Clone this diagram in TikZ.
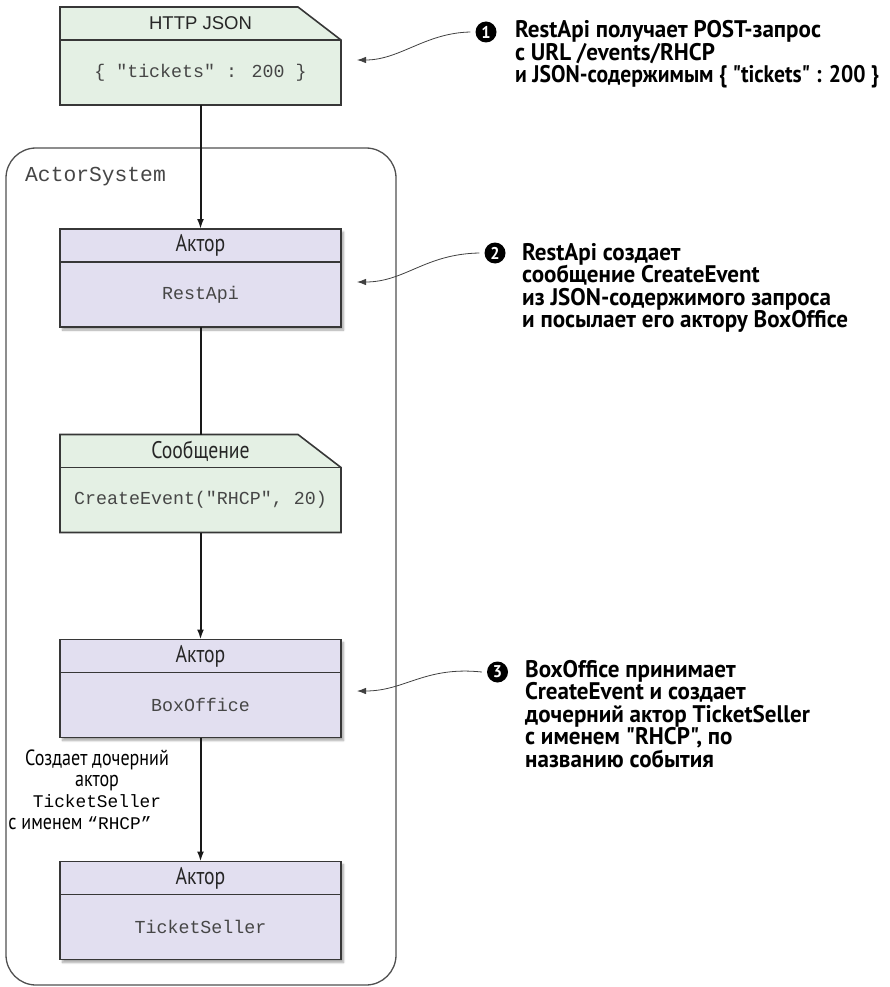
\documentclass[tikz,border=0pt]{standalone}
\usepackage{fontspec}
\setmainfont{PT Sans}
\newfontfamily\narrowfont{PT Sans}[FakeStretch=0.82]
\newfontfamily\notefont{PT Sans}[FakeStretch=0.96]
\newfontfamily\notetight{PT Sans}[FakeStretch=0.9]
\newfontfamily\headfont{Liberation Sans}
\newfontfamily\codefont{Liberation Mono}
\usetikzlibrary{arrows.meta,shadows.blur}

\definecolor{msgfill}{RGB}{228,240,228}
\definecolor{actfill}{RGB}{226,223,240}
\definecolor{boxline}{RGB}{55,55,55}
\definecolor{codegray}{RGB}{70,70,70}
\definecolor{framegray}{RGB}{80,80,80}

\tikzset{
  frame/.style={inner sep=0pt, outer sep=0pt, minimum width=281pt, minimum height=98pt},
  actorbox/.style={frame, draw=boxline, line width=1.6pt, fill=actfill,
    blur shadow={shadow xshift=2.5pt, shadow yshift=-3pt, shadow blur steps=6, shadow opacity=35}},
  noteshape/.style={draw=boxline, line width=1.6pt, fill=msgfill},
  divider/.style={draw=boxline, line width=1.6pt},
  hdr/.style={font=\narrowfont\fontsize{24}{26}\selectfont, text=black!85, inner sep=0pt},
  httphdr/.style={font=\headfont\fontsize{18.5}{20}\selectfont, text=black!85, inner sep=0pt},
  code/.style={font=\codefont\fontsize{18.3}{20}\selectfont, text=codegray, inner sep=0pt},
  flow/.style={line width=2pt, black!90},
  flowarrow/.style={flow, -{Latex[length=10pt,width=7pt]}},
  callout/.style={line width=0.8pt, black!75, -{Latex[length=9pt,width=6.5pt]}},
  badge/.style={circle, fill=black, text=white, inner sep=0pt, minimum size=21pt,
    font=\notefont\bfseries\fontsize{17}{17}\selectfont},
  note/.style={align=left, anchor=base west, inner sep=0pt,
    font=\notefont\bfseries\fontsize{24}{22.4}\selectfont},
}

\begin{document}
\begin{tikzpicture}[x=1pt,y=-1pt]
\useasboundingbox (0,0) rectangle (889,987);

% actor system frame
\draw[draw=framegray, line width=1.3pt, rounded corners=30pt] (6,148) rectangle (396,985);
\node[anchor=west, inner sep=0pt, font=\codefont\fontsize{21.3}{24}\selectfont, text=codegray] (sys) at (25,177) {ActorSystem};

% incoming HTTP request
\node[frame] (http) at (200.5,56) {};
\filldraw[noteshape] (http.north west) -- ([xshift=-43pt]http.north east) -- ([yshift=-33pt]http.north east) -- (http.south east) -- (http.south west) -- cycle;
\draw[divider] ([yshift=-33pt]http.north west) -- ([yshift=-33pt]http.north east);
\node[httphdr] (httph) at ([yshift=-16.5pt]http.north) {HTTP JSON};
\node[code] (httpb) at ([yshift=-16.5pt]http.center) {\{ "tickets" : 200 \}};

% RestApi actor
\node[actorbox] (rest) at (200.5,278) {};
\draw[divider] ([yshift=-33pt]rest.north west) -- ([yshift=-33pt]rest.north east);
\node[hdr] (resth) at ([yshift=-16.5pt]rest.north) {Актор};
\node[code] (restb) at ([yshift=-16.5pt]rest.center) {RestApi};

% CreateEvent message
\node[frame] (msg) at (200.5,483.5) {};
\filldraw[noteshape] (msg.north west) -- ([xshift=-43pt]msg.north east) -- ([yshift=-33pt]msg.north east) -- (msg.south east) -- (msg.south west) -- cycle;
\draw[divider] ([yshift=-33pt]msg.north west) -- ([yshift=-33pt]msg.north east);
\node[hdr] (msgh) at ([yshift=-16.5pt]msg.north) {Сообщение};
\node[code] (msgb) at ([yshift=-16.5pt]msg.center) {CreateEvent("RHCP", 20)};

% BoxOffice actor
\node[actorbox] (box) at (200.5,688.5) {};
\draw[divider] ([yshift=-33pt]box.north west) -- ([yshift=-33pt]box.north east);
\node[hdr] (boxh) at ([yshift=-16.5pt]box.north) {Актор};
\node[code] (boxb) at ([yshift=-16.5pt]box.center) {BoxOffice};

% TicketSeller actor
\node[actorbox] (seller) at (200.5,910.5) {};
\draw[divider] ([yshift=-33pt]seller.north west) -- ([yshift=-33pt]seller.north east);
\node[hdr] (sellerh) at ([yshift=-16.5pt]seller.north) {Актор};
\node[code] (sellerb) at ([yshift=-16.5pt]seller.center) {TicketSeller};

% message flow
\draw[flowarrow] (http.south) -- (rest.north);
\draw[flow] (rest.south) -- (msg.north);
\draw[flowarrow] (msg.south) -- (box.north);
\draw[flowarrow] (box.south) -- (seller.north);

% child creation label
\node[align=center, inner sep=0pt, anchor=base, font=\narrowfont\fontsize{22}{21.2}\selectfont] (lbl) at (97,829)
  {Создает дочерний\\актор\\{\codefont\fontsize{17.8}{21.2}\selectfont TicketSeller}\\с именем {\codefont\fontsize{17.8}{21.2}\selectfont “RHCP”}\hspace*{34pt}};

% callouts
\node[badge] (n1) at (486,32) {1};
\node[note] (t1) at (515,82.5) {RestApi получает POST-запрос\\с URL /events/RHCP\\{\notetight\bfseries и JSON-содержимым \{ "tickets" : 200 \}}};
\coordinate (a1) at (357,60);
\draw[callout] ([xshift=-5pt]n1.west) .. controls (425,33) and (400,60) .. (a1);

\node[badge] (n2) at (495,253) {2};
\node[note] (t2) at (522,327.5) {RestApi создает\\сообщение CreateEvent\\из JSON-содержимого запроса\\и посылает его актору BoxOffice};
\coordinate (a2) at (357,282);
\draw[callout] ([xshift=-5pt]n2.west) .. controls (425,254) and (405,282) .. (a2);

\node[badge] (n3) at (497.5,672) {3};
\node[note] (t3) at (525,767) {BoxOffice принимает\\CreateEvent и создает\\дочерний актор TicketSeller\\с именем "RHCP", по\\названию события};
\coordinate (a3) at (357,691);
\draw[callout] ([xshift=-5pt]n3.west) .. controls (425,666) and (405,691) .. (a3);
\end{tikzpicture}
\end{document}
